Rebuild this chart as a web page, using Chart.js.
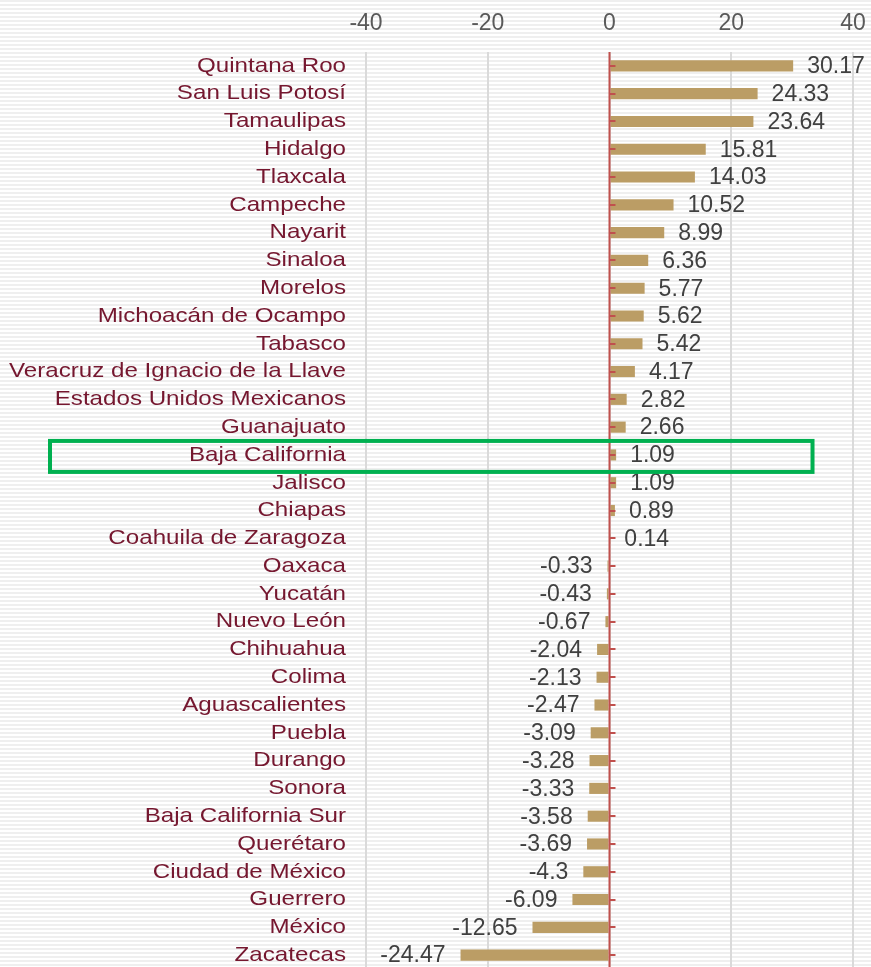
<!DOCTYPE html>
<html>
<head>
<meta charset="utf-8">
<script src="https://cdn.jsdelivr.net/npm/chart.js@4"></script>
<style>
html,body{margin:0;padding:0;overflow:hidden;width:871px;height:967px;
background:repeating-linear-gradient(to bottom,#efefef 0px,#efefef 2px,#ffffff 2px,#ffffff 4px);}
#wrap{position:absolute;left:0;top:0;width:871px;height:971px;}
</style>
</head>
<body>
<div id="wrap"><canvas id="c" width="871" height="971"></canvas></div>
<script>
const categories = ["Quintana Roo","San Luis Potosí","Tamaulipas","Hidalgo","Tlaxcala","Campeche","Nayarit","Sinaloa","Morelos","Michoacán de Ocampo","Tabasco","Veracruz de Ignacio de la Llave","Estados Unidos Mexicanos","Guanajuato","Baja California","Jalisco","Chiapas","Coahuila de Zaragoza","Oaxaca","Yucatán","Nuevo León","Chihuahua","Colima","Aguascalientes","Puebla","Durango","Sonora","Baja California Sur","Querétaro","Ciudad de México","Guerrero","México","Zacatecas"];
const values = [30.17,24.33,23.64,15.81,14.03,10.52,8.99,6.36,5.77,5.62,5.42,4.17,2.82,2.66,1.09,1.09,0.89,0.14,-0.33,-0.43,-0.67,-2.04,-2.13,-2.47,-3.09,-3.28,-3.33,-3.58,-3.69,-4.3,-6.09,-12.65,-24.47];
const xTicks = [-40,-20,0,20,40];
const highlighted = "Baja California";

const FONT = "'Liberation Sans', Arial, sans-serif";

const decor = {
  id:'decor',
  afterDatasetsDraw(chart){
    const ctx = chart.ctx, x = chart.scales.x, y = chart.scales.y;
    const x0 = x.getPixelForValue(0);
    ctx.save();
    // zero line
    ctx.strokeStyle = '#c0504d'; ctx.lineWidth = 2;
    ctx.beginPath(); ctx.moveTo(x0, chart.chartArea.top); ctx.lineTo(x0, chart.chartArea.bottom); ctx.stroke();
    // small ticks
    categories.forEach((c,i)=>{
      const py = Math.round(y.getPixelForValue(i));
      ctx.beginPath(); ctx.moveTo(x0, py); ctx.lineTo(x0+6, py); ctx.stroke();
    });
    // category labels (slightly wide lettering, as in the source)
    ctx.font = "21px " + FONT; ctx.fillStyle = '#75172f'; ctx.textBaseline = 'middle'; ctx.textAlign = 'right';
    categories.forEach((c,i)=>{
      ctx.save();
      ctx.translate(chart.chartArea.left - 20, y.getPixelForValue(i));
      ctx.scale(1.15, 1);
      ctx.fillText(c, 0, 0);
      ctx.restore();
    });
    // data labels
    ctx.font = "23px " + FONT; ctx.fillStyle = '#404040'; ctx.textBaseline = 'middle';
    values.forEach((v,i)=>{
      const px = x.getPixelForValue(v), py = y.getPixelForValue(i)+1;
      if (v >= 0){ ctx.textAlign='left'; ctx.fillText(String(v), px+14, py); }
      else { ctx.textAlign='right'; ctx.fillText(String(v), px-15, py); }
    });
    // highlight box
    const hi = categories.indexOf(highlighted);
    const hy = y.getPixelForValue(hi);
    const xl = 50;
    const xr = x.getPixelForValue(33.35);
    ctx.strokeStyle = '#00b050'; ctx.lineWidth = 4;
    ctx.strokeRect(xl, hy-14, xr-xl, 31);
    ctx.restore();
  }
};

new Chart(document.getElementById('c'), {
  type:'bar',
  data:{ labels:categories, datasets:[{ data:values, backgroundColor:'#bb9d65', barPercentage:0.8, categoryPercentage:0.5 }] },
  options:{
    indexAxis:'y', responsive:false, maintainAspectRatio:false, animation:false,
    layout:{ padding:{ left:0, right:18, top:0, bottom:2 } },
    plugins:{ legend:{display:false}, tooltip:{enabled:false} },
    scales:{
      x:{ position:'top', min:-40, max:40,
          afterBuildTicks(s){ s.ticks = xTicks.map(v=>({value:v})); },
          afterFit(s){ s.height = 52; s.paddingLeft = 0; s.paddingRight = 0; },
          grid:{ color:'#dadada', lineWidth:2, drawTicks:false },
          border:{ display:false },
          ticks:{ color:'#595959', font:{ size:23, family:FONT }, padding:15, maxRotation:0 } },
      y:{ afterFit(s){ s.width = 366; s.paddingTop = 0; s.paddingBottom = 0; },
          grid:{ display:false, drawTicks:false }, border:{ display:false },
          ticks:{ display:false, autoSkip:false } }
    }
  },
  plugins:[decor]
});
</script>
</body>
</html>
